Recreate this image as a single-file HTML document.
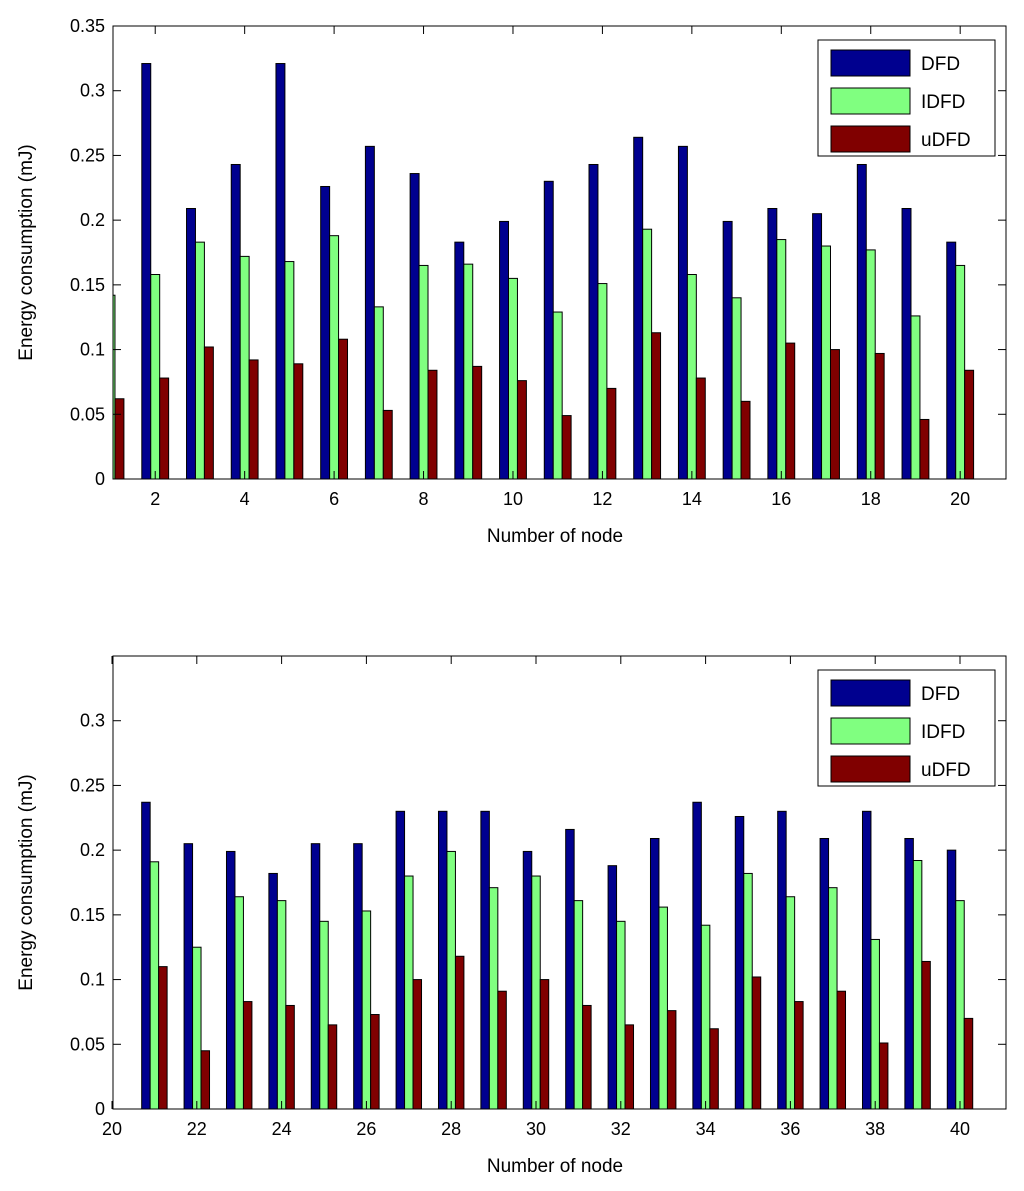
<!DOCTYPE html>
<html><head><meta charset="utf-8"><style>
body{margin:0;background:#fff;}
svg{display:block;font-family:"Liberation Sans",Arial,sans-serif;}
</style></head><body>
<svg id="svg" width="1024" height="1191"></svg>
<script>
const nodesTop=[1,2,3,4,5,6,7,8,9,10,11,12,13,14,15,16,17,18,19,20];
const dfdTop=[0.2,0.321,0.209,0.243,0.321,0.226,0.257,0.236,0.183,0.199,0.230,0.243,0.264,0.257,0.199,0.209,0.205,0.243,0.209,0.183];
const idfdTop=[0.142,0.158,0.183,0.172,0.168,0.188,0.133,0.165,0.166,0.155,0.129,0.151,0.193,0.158,0.140,0.185,0.180,0.177,0.126,0.165];
const udfdTop=[0.062,0.078,0.102,0.092,0.089,0.108,0.053,0.084,0.087,0.076,0.049,0.070,0.113,0.078,0.060,0.105,0.100,0.097,0.046,0.084];
const nodesBot=[21,22,23,24,25,26,27,28,29,30,31,32,33,34,35,36,37,38,39,40];
const dfdBot=[0.237,0.205,0.199,0.182,0.205,0.205,0.230,0.230,0.230,0.199,0.216,0.188,0.209,0.237,0.226,0.230,0.209,0.230,0.209,0.200];
const idfdBot=[0.191,0.125,0.164,0.161,0.145,0.153,0.180,0.199,0.171,0.180,0.161,0.145,0.156,0.142,0.182,0.164,0.171,0.131,0.192,0.161];
const udfdBot=[0.110,0.045,0.083,0.080,0.065,0.073,0.100,0.118,0.091,0.100,0.080,0.065,0.076,0.062,0.102,0.083,0.091,0.051,0.114,0.070];
const yTicks=[0,0.05,0.1,0.15,0.2,0.25,0.3,0.35];
const yTickLabels=["0","0.05","0.1","0.15","0.2","0.25","0.3","0.35"];
const xTicksTop=[2,4,6,8,10,12,14,16,18,20];
const xTickLabelsTop=["2","4","6","8","10","12","14","16","18","20"];
const xTicksBot=[20,22,24,26,28,30,32,34,36,38,40];
const xTickLabelsBot=["20","22","24","26","28","30","32","34","36","38","40"];
const seriesNames=["DFD","IDFD","uDFD"];
const colors=["#00008f","#80ff80","#800000"];

const NS="http://www.w3.org/2000/svg";
const svg=document.getElementById('svg');
function mk(tag,attrs,parent){const e=document.createElementNS(NS,tag);for(const k in attrs)e.setAttribute(k,attrs[k]);(parent||svg).appendChild(e);return e;}

function drawPanel(id,top,nodes,series,xStart,x0,step,xTicks,xLabels){
  const L=113,R=1006,T=top,B=top+453;
  const g=mk('g',{});
  
  
  const y=v=>B-v/0.35*(B-T);
  const x=n=>x0+(n-xStart)*step;
  const clip=mk('clipPath',{id:'c'+id},g);
  mk('rect',{x:L,y:T,width:R-L,height:B-T},clip);
  mk('rect',{x:L,y:T,width:R-L,height:B-T,fill:'#fff',stroke:'none'},g);
  const bars=mk('g',{'clip-path':'url(#c'+id+')'},g);
  const off=step*0.2, bw=step*0.2;
  const offs=[-off,0,off];
  series.forEach((s,si)=>{
    s.forEach((v,i)=>{
      const cx=x(nodes[i])+offs[si];
      const r=mk('rect',{x:cx-bw/2,y:y(v),width:bw,height:B-y(v),fill:colors[si],stroke:'#000','stroke-width':1},bars);
      
      
    });
  });
  mk('rect',{x:L,y:T,width:R-L,height:B-T,fill:'none',stroke:'#000','stroke-width':1},g);
  yTicks.forEach((t,i)=>{
    const yy=y(t);
    mk('line',{x1:L,x2:L+8,y1:yy,y2:yy,stroke:'#000'},g);
    mk('line',{x1:R,x2:R-8,y1:yy,y2:yy,stroke:'#000'},g);
    if(id==='bottom-panel'&&t===0.35)return;
    const tx=mk('text',{x:L-8,y:yy+6,'text-anchor':'end','font-size':18},g);
    tx.textContent=yTickLabels[i];
    
    
  });
  xTicks.forEach((t,i)=>{
    const xx=x(t);
    mk('line',{x1:xx,x2:xx,y1:B,y2:B-8,stroke:'#000'},g);
    mk('line',{x1:xx,x2:xx,y1:T,y2:T+8,stroke:'#000'},g);
    const tx=mk('text',{x:xx,y:B+26,'text-anchor':'middle','font-size':18},g);
    tx.textContent=xLabels[i];
    
    
  });
  const xl=mk('text',{x:555,y:B+63,'text-anchor':'middle','font-size':19},g);
  xl.textContent='Number of node';
  
  
  const yl=mk('text',{x:32,y:(T+B)/2,'text-anchor':'middle','font-size':19,transform:'rotate(-90 32 '+((T+B)/2)+')'},g);
  yl.textContent='Energy consumption (mJ)';
  
  
  const lg=mk('g',{},g);
  
  
  mk('rect',{x:818,y:T+14,width:177,height:116,fill:'#fff',stroke:'#000'},lg);
  seriesNames.forEach((n,i)=>{
    const ry=T+37+i*38;
    const sw=mk('rect',{x:831,y:ry-13,width:79,height:26,fill:colors[i],stroke:'#000'},lg);
    
    
    const tx=mk('text',{x:921,y:ry+7,'font-size':19},lg);
    tx.textContent=n;
    
    
  });
}
drawPanel('top-panel',26,nodesTop,[dfdTop,idfdTop,udfdTop],1,110.5,44.72,xTicksTop,xTickLabelsTop);
drawPanel('bottom-panel',656,nodesBot,[dfdBot,idfdBot,udfdBot],20,112,42.4,xTicksBot,xTickLabelsBot);
</script>
</body></html>
